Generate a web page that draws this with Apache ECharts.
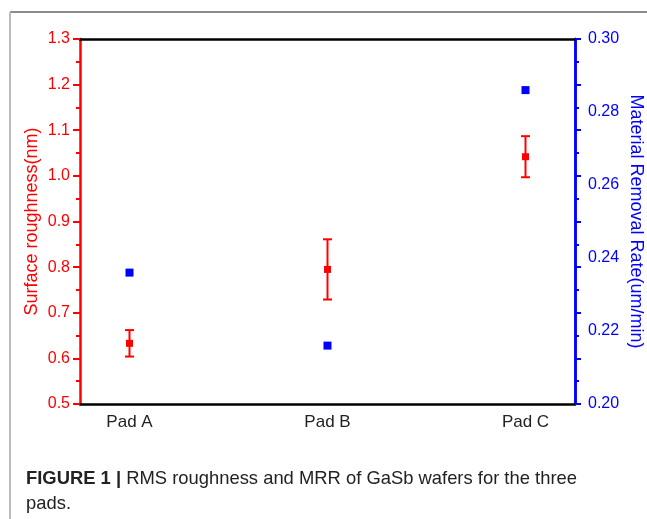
<!DOCTYPE html>
<html>
<head>
<meta charset="utf-8">
<script src="https://cdn.jsdelivr.net/npm/echarts@6/dist/echarts.min.js"></script>
<style>html,body{margin:0;padding:0;background:#fff}#c{width:647px;height:519px}</style>
</head>
<body>
<div id="c"></div>
<script>
const categories = ['Pad A', 'Pad B', 'Pad C'];
const roughness = [0.633, 0.795, 1.042];
const roughnessErr = [0.029, 0.066, 0.045];
const mrr = [0.236, 0.216, 0.286];
const leftTicks = { min: 0.5, max: 1.3, interval: 0.1 };
const rightTicks = { min: 0.20, max: 0.30, interval: 0.02 };

const RED = '#ff0000', BLUE = '#0000ff';
const chart = echarts.init(document.getElementById('c'), null, { renderer: 'canvas' });

const redPts = roughness.map((v, i) => [i + 1, v]);
const bluePts = mrr.map((v, i) => [i + 1, v]);
const errData = roughness.map((v, i) => [i + 1, v - roughnessErr[i], v + roughnessErr[i]]);

const font = 'Liberation Sans, Arial, sans-serif';

chart.setOption({
  animation: false,
  backgroundColor: '#fff',
  grid: { left: 80, right: 72, top: 39, bottom: 115, containLabel: false, outerBoundsMode: 'none' },
  xAxis: [
    {
      type: 'value', position: 'bottom', min: 0.75, max: 3.25, interval: 0.25,
      axisLine: { show: true, onZero: false, lineStyle: { color: '#000', width: 2.5 } },
      axisTick: { show: false }, splitLine: { show: false },
      axisLabel: {
        color: '#222', fontSize: 17, fontFamily: font, margin: 10,
        showMinLabel: true, showMaxLabel: true,
        formatter: v => (Math.abs(v - Math.round(v)) < 1e-9 && v >= 1 && v <= categories.length) ? categories[Math.round(v) - 1] : ''
      }
    },
    {
      type: 'value', position: 'top', min: 0.75, max: 3.25, interval: 0.25,
      axisLine: { show: true, onZero: false, lineStyle: { color: '#000', width: 2.5 } },
      axisTick: { show: false }, axisLabel: { show: false }, splitLine: { show: false }
    }
  ],
  yAxis: [
    {
      type: 'value', position: 'left', min: leftTicks.min, max: leftTicks.max, interval: leftTicks.interval,
      name: 'Surface roughness(nm)', nameLocation: 'middle', nameGap: 39, nameMoveOverlap: false,
      nameTextStyle: { color: RED, fontSize: 18, fontFamily: font },
      axisLine: { show: true, onZero: false, lineStyle: { color: RED, width: 2.5 } },
      axisTick: { show: true, inside: false, length: 7, lineStyle: { color: RED, width: 2 } },
      minorTick: { show: true, splitNumber: 2, length: 4, lineStyle: { color: RED, width: 2 } },
      axisLabel: { color: RED, fontSize: 16, fontFamily: font, margin: 10, formatter: v => v.toFixed(1) },
      splitLine: { show: false }
    },
    {
      type: 'value', position: 'right', min: rightTicks.min, max: rightTicks.max, interval: rightTicks.interval,
      name: 'Material Removal Rate(um/min)', nameLocation: 'middle', nameGap: 52, nameRotate: -90, nameMoveOverlap: false,
      nameTextStyle: { color: BLUE, fontSize: 18, fontFamily: font },
      axisLine: { show: true, onZero: false, lineStyle: { color: BLUE, width: 2.5 } },
      axisTick: { show: false },
      axisLabel: { color: BLUE, fontSize: 16, fontFamily: font, margin: 13, formatter: v => v.toFixed(2) },
      splitLine: { show: false }
    },
    {
      type: 'value', position: 'right', min: leftTicks.min, max: leftTicks.max, interval: leftTicks.interval,
      axisLine: { show: true, onZero: false, lineStyle: { color: BLUE, width: 2.5 } },
      axisTick: { show: true, inside: false, length: 6, lineStyle: { color: BLUE, width: 2 } },
      minorTick: { show: true, splitNumber: 2, length: 4, lineStyle: { color: BLUE, width: 2 } },
      axisLabel: { show: false }, splitLine: { show: false }
    }
  ],
  series: [
    {
      type: 'custom', xAxisIndex: 0, yAxisIndex: 0, data: errData, z: 3,
      renderItem: (params, api) => {
        const x = api.value(0);
        const lo = api.coord([x, api.value(1)]);
        const hi = api.coord([x, api.value(2)]);
        const hw = 4.5;
        const st = { stroke: RED, lineWidth: 2 };
        return {
          type: 'group',
          children: [
            { type: 'line', shape: { x1: lo[0], y1: lo[1], x2: hi[0], y2: hi[1] }, style: st },
            { type: 'line', shape: { x1: hi[0] - hw, y1: hi[1], x2: hi[0] + hw, y2: hi[1] }, style: st },
            { type: 'line', shape: { x1: lo[0] - hw, y1: lo[1], x2: lo[0] + hw, y2: lo[1] }, style: st }
          ]
        };
      }
    },
    {
      type: 'scatter', xAxisIndex: 0, yAxisIndex: 0, data: redPts, symbol: 'rect', symbolSize: 7,
      itemStyle: { color: RED, opacity: 1 }, z: 4
    },
    {
      type: 'scatter', xAxisIndex: 0, yAxisIndex: 1, data: bluePts, symbol: 'rect', symbolSize: 8,
      itemStyle: { color: BLUE, opacity: 1 }, z: 4
    }
  ],
  graphic: [
    { type: 'line', shape: { x1: 10, y1: 12, x2: 647, y2: 12 }, style: { stroke: '#666', lineWidth: 1.5 } },
    { type: 'line', shape: { x1: 10, y1: 12, x2: 10, y2: 519 }, style: { stroke: '#bbb', lineWidth: 2 } },
    {
      type: 'text', left: 26, top: 466,
      style: {
        text: '{b|FIGURE 1 |} RMS roughness and MRR of GaSb wafers for the three\npads.',
        fill: '#222', font: '18.4px Liberation Sans, Arial, sans-serif', lineHeight: 25,
        rich: { b: { fontWeight: 'bold', fontSize: 18.4, fontFamily: font, fill: '#222', lineHeight: 25 } }
      }
    }
  ]
});
</script>
</body>
</html>
